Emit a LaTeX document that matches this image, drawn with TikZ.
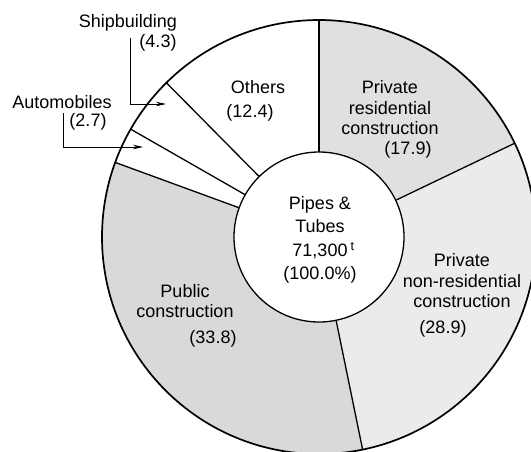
\documentclass[tikz,border=0pt]{standalone}
\usepackage{fontspec}
\setmainfont{Liberation Sans}
\usetikzlibrary{arrows.meta}

\begin{document}
\begin{tikzpicture}[x=1pt,y=1pt,>={Stealth[length=10pt,width=4.5pt]},
                    font=\fontsize{18}{20.5}\selectfont]

  \tikzstyle{every node}=[align=center,inner sep=0pt]
  \tikzstyle{rim}=[line width=1.7pt]
  \tikzstyle{cut}=[line width=1.3pt]
  \tikzstyle{callout}=[->,line width=0.8pt]

  \useasboundingbox (0,0) rectangle (531,-451);
  \coordinate (C) at (319,-237);

  % shaded sectors
  \fill[gray!24] (C) -- ++(90:217)   arc[start angle=90,end angle=25.6,radius=217]    -- cycle;
  \fill[gray!16] (C) -- ++(25.6:217) arc[start angle=25.6,end angle=-78.4,radius=217] -- cycle;
  \fill[gray!30] (C) -- ++(-78.4:217) arc[start angle=-78.4,end angle=-200.1,radius=217] -- cycle;

  \fill[white] (C) circle (85);
  \draw[rim] (C) circle (217);
  \draw[cut] (C) circle (85);
  \foreach \a in {90,25.6,-78.4,159.9,150.2,134.7}
    \draw[cut] (C) ++(\a:85) -- ++(\a:132);

  % labels
  \node (hub) at (320,-240) [font=\fontsize{18}{23.5}\selectfont]
        {Pipes \&\\Tubes\\71,300\rlap{\,\textsuperscript{t}}\\(100.0\%)};

  \node (oth)    at (258,-87)  {Others};
  \node (othv)   at (250,-113) {(12.4)};
  \node (res)    at (390,-108) {Private\\residential\\construction};
  \node (resv)   at (408,-150) {(17.9)};
  \node (nres)   at (462,-281) {Private\\non-residential\\construction};
  \node (nresv)  at (443,-329) {(28.9)};
  \node (pub)    at (185,-301) {Public\\construction};
  \node (pubv)   at (213,-339) {(33.8)};
  \node (ship)   at (128,-23)  {Shipbuilding};
  \node (shipv)  at (158,-43)  {(4.3)};
  \node (auto)   at (62,-102)  {Automobiles};
  \node (autov)  at (88,-122)  {(2.7)};

  % callouts
  \coordinate (shipA) at (130,-38);
  \coordinate (shipT) at (166,-104);
  \coordinate (autoA) at (63,-113);
  \coordinate (autoT) at (143,-147);
  \draw[callout] (shipA) |- (shipT);
  \draw[callout] (autoA) |- (autoT);

\end{tikzpicture}
\end{document}
